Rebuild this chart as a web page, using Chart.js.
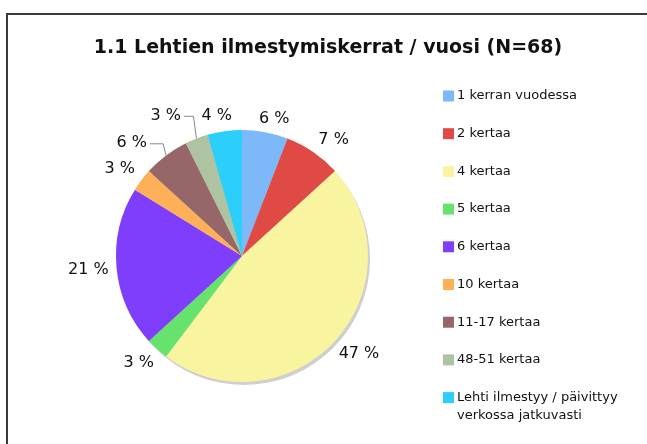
<!DOCTYPE html>
<html>
<head>
<meta charset="utf-8">
<script src="https://cdn.jsdelivr.net/npm/chart.js@4/dist/chart.umd.min.js"></script>
<style>
  body { margin: 0; background: #fff; }
  canvas { display: block; }
</style>
</head>
<body>
<canvas id="myChart" width="647" height="444"></canvas>
<script>
// data (counts out of N=68)
var titleText = "1.1 Lehtien ilmestymiskerrat / vuosi (N=68)";
var categories = ["1 kerran vuodessa", "2 kertaa", "4 kertaa", "5 kertaa", "6 kertaa",
  "10 kertaa", "11-17 kertaa", "48-51 kertaa", "Lehti ilmestyy / päivittyy\nverkossa jatkuvasti"];
var counts = [4, 5, 32, 2, 14, 2, 4, 2, 3];
var colors = ["#7db9f8", "#e04a44", "#f9f49f", "#66e36c", "#7f3dfc",
  "#fdb058", "#966668", "#aec3a2", "#2ccffa"];

// label tweaks for the crowded small slices (drawn with a leader line)
var labelShift = [[4, 5], [5, 3], [0, 0], [0, 0], [4, 0], [0, 0], [-18, 3], [-21, -5], [-4, 3]];

var total = counts.reduce(function(a, b) { return a + b; }, 0);

var decorPlugin = {
  id: "decor",
  beforeDatasetsDraw: function(chart) {
    var ctx = chart.ctx;
    var arc = chart.getDatasetMeta(0).data[0];
    // soft shadow under the pie
    ctx.save();
    ctx.fillStyle = "#cfcfcf";
    ctx.beginPath();
    ctx.arc(arc.x + 2, arc.y + 3, arc.outerRadius, 0, Math.PI * 2);
    ctx.fill();
    ctx.restore();
  },
  afterDraw: function(chart) {
    var ctx = chart.ctx;
    ctx.save();

    // frame
    ctx.strokeStyle = "#3a3a3a";
    ctx.lineWidth = 2;
    ctx.beginPath();
    ctx.moveTo(7, 444);
    ctx.lineTo(7, 14);
    ctx.lineTo(647, 14);
    ctx.stroke();

    // title
    ctx.fillStyle = "#111";
    ctx.font = "bold 19px 'DejaVu Sans'";
    ctx.textAlign = "center";
    ctx.textBaseline = "middle";
    ctx.fillText(titleText, 328, 48);

    // percentage labels
    ctx.font = "16px 'DejaVu Sans'";
    var meta = chart.getDatasetMeta(0);
    meta.data.forEach(function(a, i) {
      var mid = (a.startAngle + a.endAngle) / 2;
      var dx = Math.cos(mid), dy = Math.sin(mid);
      var txt = Math.round(counts[i] / total * 100) + " %";
      var hw = ctx.measureText(txt).width / 2;
      var r = a.outerRadius + 12;
      var lx = a.x + dx * r + dx * hw + labelShift[i][0];
      var ly = a.y + dy * r + dy * 7 + labelShift[i][1];
      if (Math.abs(labelShift[i][0]) > 10) {
        var ex = a.x + dx * a.outerRadius, ey = a.y + dy * a.outerRadius;
        ctx.strokeStyle = "#888";
        ctx.lineWidth = 1;
        ctx.beginPath();
        ctx.moveTo(ex, ey);
        ctx.lineTo(ex - 3, ly + 0.5);
        ctx.lineTo(lx + hw + 3, ly + 0.5);
        ctx.stroke();
      }
      ctx.fillStyle = "#111";
      ctx.textAlign = "center";
      ctx.fillText(txt, lx, ly);
    });

    // legend
    ctx.font = "13px 'DejaVu Sans'";
    ctx.textAlign = "left";
    categories.forEach(function(c, i) {
      var y = 96 + i * 37.7;
      ctx.fillStyle = colors[i];
      ctx.fillRect(443, y - 5.5, 11, 11);
      ctx.fillStyle = "#111";
      c.split("\n").forEach(function(line, j) {
        ctx.fillText(line, 457, y + j * 18);
      });
    });

    ctx.restore();
  }
};

var ctx1 = document.getElementById("myChart");

var chart1 = new Chart(ctx1, {
  type: "pie",
  data: {
    labels: categories,
    datasets: [{
      data: counts,
      backgroundColor: colors,
      borderWidth: 0
    }]
  },
  options: {
    responsive: false,
    animation: false,
    layout: { padding: { left: 116, right: 279, top: 130, bottom: 62 } },
    plugins: {
      legend: { display: false },
      title: { display: false },
      tooltip: { enabled: false }
    }
  },
  plugins: [decorPlugin]
});
</script>
</body>
</html>
